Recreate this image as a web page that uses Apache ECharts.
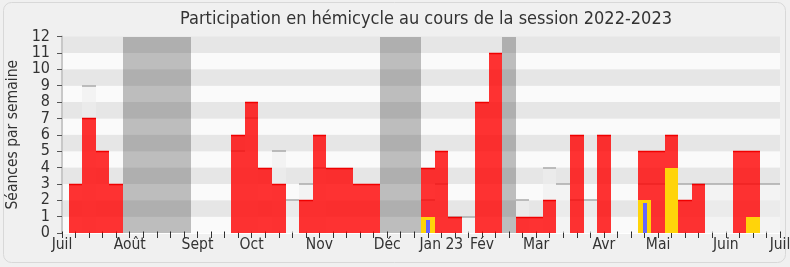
<!DOCTYPE html>
<html><head><meta charset="utf-8">
<script src="https://cdn.jsdelivr.net/npm/echarts@6/dist/echarts.min.js"></script>
<style>html,body{margin:0;padding:0;background:#f0f0f0}#c{width:790px;height:267px}</style>
</head><body><div id="c"></div>
<script>
// Week index (0 = first week of July 2022, 53 = first week of July 2023)
const weeks = [0,1,2,3,4,5,6,7,8,9,10,11,12,13,14,15,16,17,18,19,20,21,22,23,24,25,26,27,28,29,30,31,32,33,34,35,36,37,38,39,40,41,42,43,44,45,46,47,48,49,50,51,52,53];
// Séances attended by the deputy (red)
const presence = [0,3,7,5,3,0,0,0,0,0,0,0,0,6,8,4,3,0,2,6,4,4,3,3,0,0,0,4,5,1,0,8,11,0,1,1,2,0,6,0,6,0,0,5,5,6,2,3,0,0,5,5,0,0];
// Median of all deputies (grey line)
const mediane = [null,null,9,null,null,null,null,null,null,null,null,null,null,5,7,null,5,2,3,4,null,null,null,null,null,null,null,2,3,1,1,null,null,null,2,null,4,3,2,2,null,null,null,3,3,null,3,3,3,3,3,3,3,3];
// Interventions (yellow) and questions (blue)
const interventions = [0,0,0,0,0,0,0,0,0,0,0,0,0,0,0,0,0,0,0,0,0,0,0,0,0,0,0,1,0,0,0,0,0,0,0,0,0,0,0,0,0,0,0,2,0,4,0,0,0,0,0,1,0,0];
const questions = [0,0,0,0,0,0,0,0,0,0,0,0,0,0,0,0,0,0,0,0,0,0,0,0,0,0,0,1,0,0,0,0,0,0,0,0,0,0,0,0,0,0,0,2,0,0,0,0,0,0,0,0,0,0];
// Vacation weeks (grey columns)
const vacances = [5,6,7,8,9,24,25,26,33];
// Axis labels
const monthLabels = ['Juil','Août','Sept','Oct','Nov','Déc','Jan 23','Fév','Mar','Avr','Mai','Juin','Juil'];
const monthWeeks = [0,5,10,14,19,24,28,31,35,40,44,49,53];
const yMax = 12;

const FONT = '"DejaVu Sans Condensed","Liberation Sans Narrow","DejaVu Sans",sans-serif';

function rectOf(api, k, v) {
  const a = api.coord([k - 0.5, v]);
  const b = api.coord([k + 0.5, 0]);
  const x0 = Math.round(a[0]), x1 = Math.round(b[0]);
  const y0 = Math.round(a[1]), y1 = Math.round(b[1]);
  return {x: x0, y: y0, width: x1 - x0, height: y1 - y0};
}

const chart = echarts.init(document.getElementById('c'), null, {renderer: 'canvas'});
const labelMap = {};
monthWeeks.forEach((w, i) => { labelMap[w] = monthLabels[i]; });

chart.setOption({
  animation: false,
  backgroundColor: '#f0f0f0',
  graphic: [
    {type: 'rect', z: -10, shape: {x: 3.5, y: 2.5, width: 782, height: 260, r: 8},
     style: {fill: '#f0f0f0', stroke: '#d8d8d8', lineWidth: 1}},
    {type: 'text', x: 426, y: 19, style: {text: 'Participation en hémicycle au cours de la session 2022-2023',
      font: '18px ' + FONT, fill: '#333', textAlign: 'center', textVerticalAlign: 'middle'}}
  ],
  grid: {left: 62, right: 10, top: 36.5, bottom: 34, containLabel: false, outerBoundsMode: 'none'},
  xAxis: [{
    type: 'value', min: 0, max: 53, interval: 1,
    axisLine: {show: true, lineStyle: {color: '#333', width: 1}},
    axisTick: {show: true, length: 5, lineStyle: {color: '#333'}},
    axisLabel: {show: true, margin: 4, color: '#333', fontSize: 15.5, fontFamily: FONT,
      showMinLabel: true, showMaxLabel: true, hideOverlap: false,
      formatter: v => labelMap[v] !== undefined ? labelMap[v] : ''},
    splitLine: {show: false}
  }, {
    type: 'value', min: 0, max: 53, interval: 1, position: 'top',
    axisLine: {show: true, lineStyle: {color: '#ffffff', width: 1}},
    axisTick: {show: true, length: 1.5, lineStyle: {color: '#222'}},
    axisLabel: {show: false}, splitLine: {show: false}
  }],
  yAxis: [{
    type: 'value', min: 0, max: yMax, interval: 1,
    name: 'Séances par semaine', nameLocation: 'middle', nameGap: 40, nameRotate: 90,
    nameTextStyle: {color: '#333', fontSize: 15.5, fontFamily: FONT},
    axisLine: {show: true, lineStyle: {color: '#333', width: 1}},
    axisTick: {show: true, length: 5, lineStyle: {color: '#555'}},
    axisLabel: {color: '#333', fontSize: 16, fontFamily: FONT, margin: 12},
    splitLine: {show: false},
    splitArea: {show: true, areaStyle: {color: ['#fafafa', '#e6e6e6']}}
  }, {
    type: 'value', min: 0, max: yMax, interval: 1, position: 'right',
    axisLine: {show: true, lineStyle: {color: '#c8c8c8', width: 2}},
    axisTick: {show: false}, axisLabel: {show: false}, splitLine: {show: false}
  }],
  series: [
    {type: 'custom', name: 'vacances', z: 1, clip: true,
     data: vacances.map(w => [w, yMax]),
     encode: {x: 0, y: 1},
     renderItem: (params, api) => ({type: 'rect', shape: rectOf(api, api.value(0), api.value(1)),
       style: {fill: 'rgba(50,50,50,0.3)'}})},
    {type: 'custom', name: 'médiane', z: 2, clip: true,
     data: weeks.map((w, i) => [w, mediane[i]]),
     encode: {x: 0, y: 1},
     renderItem: (params, api) => {
       const v = api.value(1);
       if (v === null || isNaN(v) || v <= 0) return null;
       const r = rectOf(api, api.value(0), v);
       return {type: 'group', children: [
         {type: 'rect', shape: r, style: {fill: 'rgba(238,238,238,0.6)'}},
         {type: 'line', shape: {x1: r.x, y1: r.y, x2: r.x + r.width, y2: r.y}, style: {stroke: '#aaaaaa', lineWidth: 1.5}}
       ]};
     }},
    {type: 'custom', name: 'présence', z: 3, clip: true,
     data: weeks.map((w, i) => [w, presence[i]]),
     encode: {x: 0, y: 1},
     renderItem: (params, api) => {
       const v = api.value(1);
       if (!v) return null;
       const r = rectOf(api, api.value(0), v);
       return {type: 'group', children: [
         {type: 'rect', shape: r, style: {fill: 'rgba(255,0,0,0.8)'}},
         {type: 'line', shape: {x1: r.x, y1: r.y + 0.5, x2: r.x + r.width, y2: r.y + 0.5}, style: {stroke: 'rgb(240,0,0)', lineWidth: 1.5}}
       ]};
     }},
    {type: 'custom', name: 'interventions', z: 4, clip: true,
     data: weeks.map((w, i) => [w, interventions[i]]),
     encode: {x: 0, y: 1},
     renderItem: (params, api) => {
       const v = api.value(1);
       if (!v) return null;
       return {type: 'rect', shape: rectOf(api, api.value(0), v), style: {fill: 'rgb(255,212,10)'}};
     }},
    {type: 'custom', name: 'questions', z: 5, clip: true,
     data: weeks.map((w, i) => [w, questions[i]]),
     encode: {x: 0, y: 1},
     renderItem: (params, api) => {
       const v = api.value(1);
       if (!v) return null;
       const r = rectOf(api, api.value(0), v);
       const w = 4;
       return {type: 'rect', shape: {x: Math.round(r.x + r.width / 2 - w / 2), y: r.y + 3, width: w, height: r.height - 3},
         style: {fill: 'rgb(102,102,255)'}};
     }}
  ]
});
</script>
</body></html>
